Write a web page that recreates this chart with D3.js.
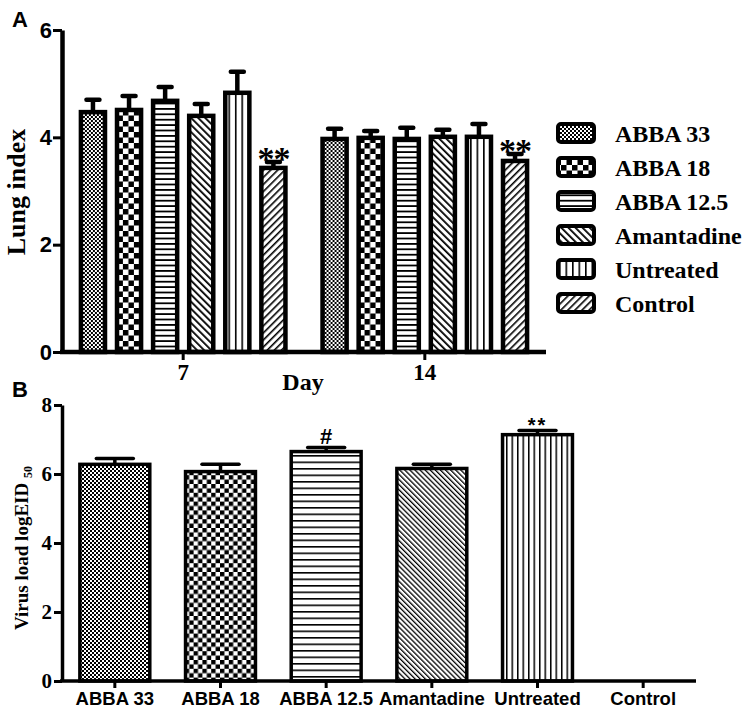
<!DOCTYPE html>
<html><head><meta charset="utf-8">
<script src="https://cdn.jsdelivr.net/npm/d3@7"></script>
<style>
body{margin:0;background:#fff;}
svg{display:block;}
</style></head>
<body>
<svg id="chart" width="754" height="710"></svg>
<script>
// ---- data ----
const days = ["7", "14"];
const groups = ["ABBA 33", "ABBA 18", "ABBA 12.5", "Amantadine", "Untreated", "Control"];
const lungDay7 = [4.47, 4.51, 4.68, 4.40, 4.83, 3.43];
const lungDay7Err = [0.23, 0.26, 0.26, 0.22, 0.39, 0.11];
const lungDay14 = [3.97, 3.99, 3.97, 4.01, 4.01, 3.56];
const lungDay14Err = [0.19, 0.13, 0.21, 0.13, 0.24, 0.13];
const lungMarks7 = ["", "", "", "", "", "**"];
const lungMarks14 = ["", "", "", "", "", "**"];
const lungTicks = [0, 2, 4, 6];
const virusLoad = [6.28, 6.07, 6.65, 6.16, 7.14, 0];
const virusErr = [0.17, 0.21, 0.12, 0.12, 0.12, 0];
const virusMarks = ["", "", "#", "", "**", ""];
const virusTicks = [0, 2, 4, 6, 8];

const SANS = "'Liberation Sans', Arial, sans-serif";
const SERIF = "'Liberation Serif', 'Times New Roman', serif";

const svg = d3.select("#chart");
const defs = svg.append("defs");

// ---- patterns ----
function checkPat(id, s) {
  const p = defs.append("pattern").attr("id", id).attr("patternUnits", "userSpaceOnUse")
    .attr("width", 2 * s).attr("height", 2 * s);
  p.append("rect").attr("width", 2 * s).attr("height", 2 * s).attr("fill", "#fff");
  p.append("rect").attr("width", s).attr("height", s).attr("fill", "#000");
  p.append("rect").attr("x", s).attr("y", s).attr("width", s).attr("height", s).attr("fill", "#000");
}
function linePat(id, gap, w, angle) {
  const p = defs.append("pattern").attr("id", id).attr("patternUnits", "userSpaceOnUse")
    .attr("width", gap).attr("height", 10);
  if (angle) p.attr("patternTransform", "rotate(" + angle + ")");
  p.append("rect").attr("width", gap).attr("height", 10).attr("fill", "#fff");
  p.append("rect").attr("width", w).attr("height", 10).attr("fill", "#000");
}
function hPat(id, gap, w) {
  const p = defs.append("pattern").attr("id", id).attr("patternUnits", "userSpaceOnUse")
    .attr("width", 10).attr("height", gap);
  p.append("rect").attr("width", 10).attr("height", gap).attr("fill", "#fff");
  p.append("rect").attr("width", 10).attr("height", w).attr("fill", "#000");
}
// panel A / legend
checkPat("a0", 2);
checkPat("a1", 5.5);
hPat("a2", 5.4, 1.8);
linePat("a3", 5, 1.8, -45);
linePat("a4", 6.5, 1.6, 0);
linePat("a5", 5, 1.6, 45);
// panel B
checkPat("b0", 2);
checkPat("b1", 4.4);
hPat("b2", 6.5, 1.6);
linePat("b3", 3.6, 1.3, -45);
linePat("b4", 5.5, 1.5, 0);
linePat("b5", 5, 1.6, 45);

// ================= Panel A =================
const yA = d3.scaleLinear().domain([0, 6]).range([352, 30]);
const x0 = d3.scaleBand().domain(days).range([62, 546]).paddingInner(0.137).paddingOuter(0.07);
const x1 = d3.scaleBand().domain(groups).range([0, x0.bandwidth()]).paddingInner(0.222).paddingOuter(0);

const dataA = [
  {day: "7", vals: lungDay7, errs: lungDay7Err, marks: lungMarks7},
  {day: "14", vals: lungDay14, errs: lungDay14Err, marks: lungMarks14}
];

const gA = svg.append("g");
dataA.forEach(d => {
  const g = gA.append("g").attr("transform", "translate(" + x0(d.day) + ",0)");
  groups.forEach((grp, i) => {
    const v = d.vals[i], e = d.errs[i];
    const bx = x1(grp), bw = x1.bandwidth(), cx = bx + bw / 2;
    g.append("line").attr("x1", cx).attr("x2", cx).attr("y1", yA(v)).attr("y2", yA(v + e))
      .attr("stroke", "#000").attr("stroke-width", 4.5);
    g.append("line").attr("x1", cx - 6.5).attr("x2", cx + 6.5).attr("y1", yA(v + e)).attr("y2", yA(v + e))
      .attr("stroke", "#000").attr("stroke-width", 4.5).attr("stroke-linecap", "round");
    g.append("rect").attr("x", bx + 2).attr("y", yA(v)).attr("width", bw - 4).attr("height", yA(0) - yA(v))
      .attr("fill", "url(#a" + i + ")").attr("stroke", "#000").attr("stroke-width", 4.5);
    if (d.marks[i]) {
      g.append("text").attr("x", cx).attr("y", yA(v + e) + 8).attr("text-anchor", "middle")
        .attr("font-family", SERIF).attr("font-weight", "bold").attr("font-size", 34)
        .attr("letter-spacing", -1).text(d.marks[i]);
    }
  });
});

// axes A
const axYA = svg.append("g").attr("transform", "translate(62,0)")
  .call(d3.axisLeft(yA).tickValues(lungTicks).tickFormat(d3.format("d")).tickSize(9).tickSizeOuter(0).tickPadding(1));
axYA.select(".domain").attr("stroke-width", 4.5);
axYA.selectAll(".tick line").attr("stroke-width", 3);
axYA.selectAll(".tick text").attr("font-family", SANS).attr("font-weight", "bold").attr("font-size", 22).attr("fill", "#000");

const axXA = svg.append("g").attr("transform", "translate(0,352)")
  .call(d3.axisBottom(x0).tickSize(8).tickSizeOuter(0).tickPadding(4));
axXA.select(".domain").attr("stroke-width", 4.5).attr("d", "M60,0H546");
axXA.selectAll(".tick line").attr("stroke-width", 3);
axXA.selectAll(".tick text").attr("font-family", SERIF).attr("font-weight", "bold").attr("font-size", 23).attr("fill", "#000");

svg.append("text").attr("x", 303).attr("y", 390).attr("text-anchor", "middle")
  .attr("font-family", SERIF).attr("font-weight", "bold").attr("font-size", 24).text("Day");
svg.append("text").attr("transform", "translate(25,192) rotate(-90)").attr("text-anchor", "middle")
  .attr("font-family", SERIF).attr("font-weight", "bold").attr("font-size", 26).text("Lung index");
svg.append("text").attr("x", 12).attr("y", 27)
  .attr("font-family", SANS).attr("font-weight", "bold").attr("font-size", 22).text("A");

// legend
const legY = d3.scalePoint().domain(groups).range([133, 303]);
const leg = svg.append("g");
groups.forEach((grp, i) => {
  const cy = legY(grp);
  leg.append("rect").attr("x", 558).attr("y", cy - 9).attr("width", 36).attr("height", 18).attr("rx", 3)
    .attr("fill", "url(#a" + i + ")").attr("stroke", "#000").attr("stroke-width", 4);
  leg.append("text").attr("x", 615).attr("y", cy + 8.5)
    .attr("font-family", SERIF).attr("font-weight", "bold").attr("font-size", 24).text(grp);
});

// ================= Panel B =================
const yB = d3.scaleLinear().domain([0, 8]).range([681, 405]);
const xB = d3.scaleBand().domain(groups).range([62, 696]).paddingInner(0.31).paddingOuter(0.155);

const gB = svg.append("g");
groups.forEach((grp, i) => {
  const v = virusLoad[i], e = virusErr[i];
  const bx = xB(grp), bw = xB.bandwidth(), cx = bx + bw / 2;
  if (v > 0) {
    gB.append("line").attr("x1", cx).attr("x2", cx).attr("y1", yB(v)).attr("y2", yB(v + e))
      .attr("stroke", "#000").attr("stroke-width", 3.5);
    gB.append("line").attr("x1", cx - 18.5).attr("x2", cx + 18.5).attr("y1", yB(v + e)).attr("y2", yB(v + e))
      .attr("stroke", "#000").attr("stroke-width", 3.5).attr("stroke-linecap", "round");
    gB.append("rect").attr("x", bx + 1.5).attr("y", yB(v)).attr("width", bw - 3).attr("height", yB(0) - yB(v))
      .attr("fill", "url(#b" + i + ")").attr("stroke", "#000").attr("stroke-width", 3.5);
  }
  if (virusMarks[i]) {
    const star = virusMarks[i] === "**";
    gB.append("text").attr("x", cx).attr("y", yB(v + e) + (star ? 1 : -3)).attr("text-anchor", "middle")
      .attr("font-family", SANS).attr("font-weight", "bold").attr("font-size", star ? 20 : 22)
      .attr("letter-spacing", star ? 2 : 0).text(virusMarks[i]);
  }
});

const axYB = svg.append("g").attr("transform", "translate(62,0)")
  .call(d3.axisLeft(yB).tickValues(virusTicks).tickFormat(d3.format("d")).tickSize(8).tickSizeOuter(0).tickPadding(2));
axYB.select(".domain").attr("stroke-width", 3.5);
axYB.selectAll(".tick line").attr("stroke-width", 3);
axYB.selectAll(".tick text").attr("font-family", SERIF).attr("font-weight", "bold").attr("font-size", 21).attr("fill", "#000");

const axXB = svg.append("g").attr("transform", "translate(0,681)")
  .call(d3.axisBottom(xB).tickSize(7).tickSizeOuter(0).tickPadding(4));
axXB.select(".domain").attr("stroke-width", 3.5).attr("d", "M60,0H696");
axXB.selectAll(".tick line").attr("stroke-width", 3);
axXB.selectAll(".tick text").attr("font-family", SANS).attr("font-weight", "bold").attr("font-size", 18.5).attr("fill", "#000");

const yl = svg.append("text").attr("transform", "translate(28,548) rotate(-90)").attr("text-anchor", "middle")
  .attr("font-family", SERIF).attr("font-weight", "bold").attr("font-size", 19);
yl.append("tspan").text("Virus load logEID ");
yl.append("tspan").attr("font-size", 12).attr("dy", 4).text("50");
svg.append("text").attr("x", 12).attr("y", 397)
  .attr("font-family", SANS).attr("font-weight", "bold").attr("font-size", 22).text("B");
</script>
</body></html>
